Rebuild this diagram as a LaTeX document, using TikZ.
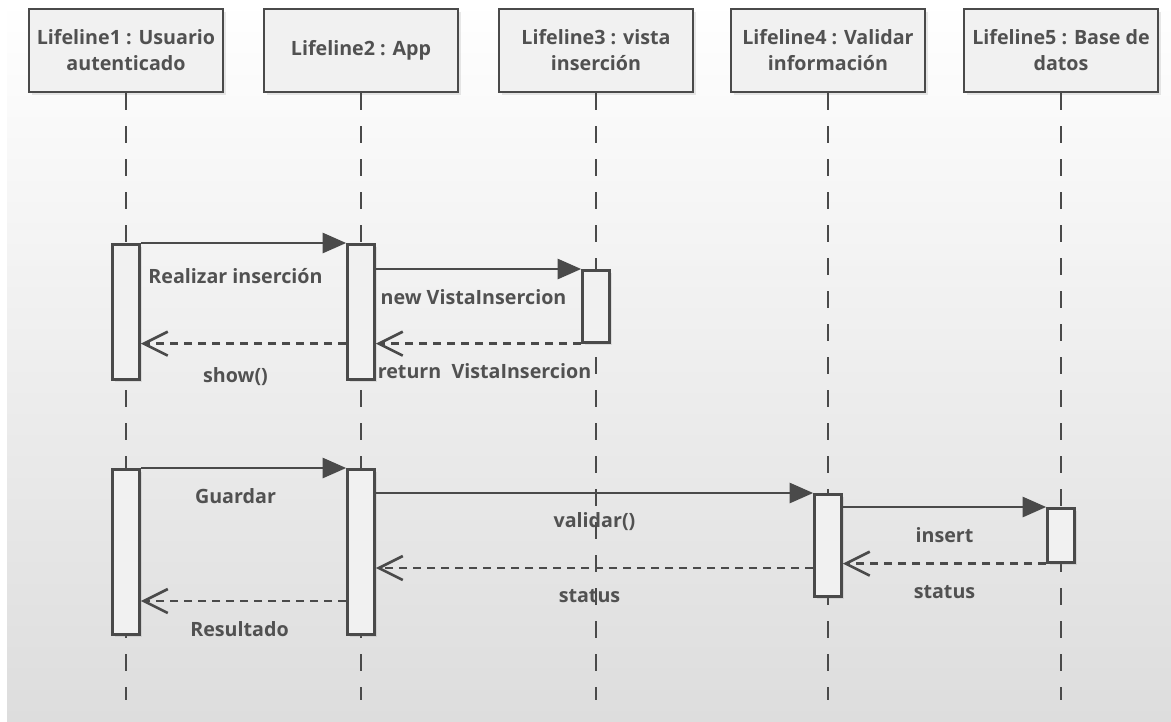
\documentclass[tikz,border=0pt]{standalone}
\usepackage{fontspec}
\setmainfont{Open Sans}
\usetikzlibrary{arrows.meta, positioning, shadows}
\definecolor{ink}{HTML}{4A4A4A}
\definecolor{txt}{HTML}{515151}
\definecolor{boxfill}{HTML}{F1F1F1}
\definecolor{bgbot}{HTML}{DDDDDD}
\tikzset{
  head/.style = {
    draw=ink, line width=1.5pt, fill=boxfill, text=txt,
    minimum width=3.88cm, minimum height=1.66cm, align=center,
    font=\fontsize{11.2}{14.8}\selectfont\bfseries,
    drop shadow={opacity=0.18, shadow xshift=0.06cm, shadow yshift=-0.06cm}
  },
  act/.style = {
    draw=ink, line width=1.5pt, fill=boxfill, anchor=north,
    minimum width=0.54cm, inner sep=0pt,
    drop shadow={opacity=0.18, shadow xshift=0.05cm, shadow yshift=-0.05cm}
  },
  life/.style = {draw=ink, line width=1.5pt, dash pattern=on 0.33cm off 0.33cm},
  call/.style = {draw=ink, line width=1.5pt, -{Triangle[length=0.47cm, width=0.4cm]}},
  ret/.style = {draw=ink, line width=1.5pt, dash pattern=on 0.16cm off 0.12cm,
    -{Straight Barb[length=0.48cm, width=0.48cm]}},
  lbl/.style = {text=txt, font=\fontsize{11.2}{13}\selectfont\bfseries, yshift=-0.57cm}
}

\begin{document}
\begin{tikzpicture}

  \useasboundingbox (0,0) rectangle (23.42,-14.42);

  % Background
  \shade[top color=white, bottom color=bgbot] (0.14,0) rectangle (23.42,-14.42);

  % Lifeline heads
  \node[head] (usr) at (2.52,-1.01) {Lifeline1 : Usuario\\autenticado};
  \node[head] (app) at (7.22,-1.01) {Lifeline2 : App};
  \node[head] (vista) at (11.92,-1.01) {Lifeline3 : vista\\inserción};
  \node[head] (valid) at (16.56,-1.01) {Lifeline4 : Validar\\información};
  \node[head] (bd) at (21.22,-1.01) {Lifeline5 : Base de\\datos};

  % Lifelines
  \foreach \n in {usr, app, vista, valid, bd} {
    \coordinate (\n-end) at (\n.south |- 0,-14.0);
    \draw[life] (\n.south) -- (\n-end);
  }

  % Activations
  \node[act, minimum height=2.7cm] (a1) at (2.52,-4.86) {};
  \node[act, minimum height=2.7cm] (a2) at (7.22,-4.86) {};
  \node[act, minimum height=1.44cm] (a3) at (11.92,-5.38) {};
  \node[act, minimum height=3.3cm] (b1) at (2.52,-9.36) {};
  \node[act, minimum height=3.3cm] (b2) at (7.22,-9.36) {};
  \node[act, minimum height=2.04cm] (b4) at (16.56,-9.86) {};
  \node[act, minimum height=1.08cm] (b5) at (21.22,-10.14) {};

  \coordinate (s9) at (0,-11.36);
  \coordinate (s10) at (0,-12.02);

  % Insertion
  \draw[call] (a1.north east) -- (a2.north west)
    node[lbl, midway, yshift=-0.1cm, xshift=-0.16cm] {Realizar inserción};
  \draw[call] (a2.east |- a3.north) -- (a3.north west)
    node[lbl, midway, xshift=-0.1cm] {new VistaInsercion};
  \draw[ret] (a3.south west) -- (a2.east |- a3.south)
    node[lbl, midway, yshift=0.03cm, xshift=0.12cm] {return\ \ VistaInsercion};
  \draw[ret] (a2.west |- a3.south) -- (a1.east |- a3.south)
    node[lbl, midway, yshift=-0.08cm, xshift=-0.16cm] {show()};

  % Save
  \draw[call] (b1.north east) -- (b2.north west)
    node[lbl, midway, xshift=-0.16cm] {Guardar};
  \draw[call] (b2.east |- b4.north) -- (b4.north west)
    node[lbl, midway] {validar()};
  \draw[call] (b4.east |- b5.north) -- (b5.north west)
    node[lbl, midway] {insert};
  \draw[ret] (b5.south west) -- (b4.east |- b5.south)
    node[lbl, midway] {status};
  \draw[ret] (b4.west |- s9) -- (b2.east |- s9)
    node[lbl, midway, xshift=-0.1cm] {status};
  \draw[ret] (b2.west |- s10) -- (b1.east |- s10)
    node[lbl, midway, xshift=-0.08cm] {Resultado};

\end{tikzpicture}
\end{document}
